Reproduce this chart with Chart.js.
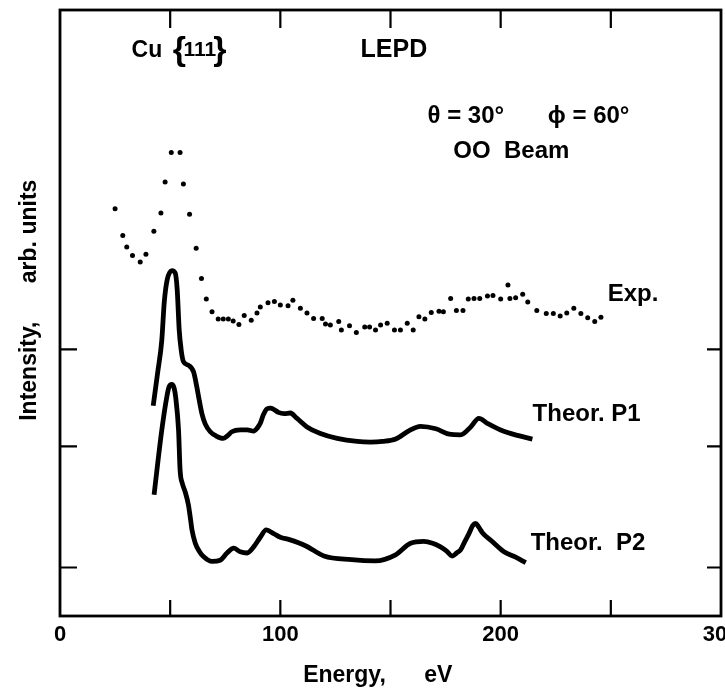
<!DOCTYPE html>
<html>
<head>
<meta charset="utf-8">
<script src="https://cdn.jsdelivr.net/npm/chart.js@4.4.1/dist/chart.umd.min.js"></script>
<style>
  body { margin: 0; background: #fff; }
  #wrap { width: 725px; height: 689px; }
</style>
</head>
<body>
<div id="wrap"><canvas id="myChart"></canvas></div>
<script>
// Datos experimentales (puntos)
const expEnergy = [25.0, 28.5, 30.3, 32.9, 36.4, 39.0, 42.6, 45.8, 47.7, 50.5, 54.5, 56.0, 58.8, 61.8, 64.2, 66.4, 69.0, 71.8, 74.1, 76.4,
  78.6, 81.2, 83.6, 86.8, 89.4, 90.9, 94.4, 97.3, 100.0, 103.5, 105.7, 109.1, 112.1, 115.1, 119.0, 120.5, 122.7, 126.5, 127.7, 131.4,
  134.5, 138.3, 140.5, 143.2, 145.5, 148.5, 151.8, 154.5, 157.6, 160.3, 162.9, 165.6, 168.5, 172.0, 174.0, 177.3, 179.9, 182.9, 185.3, 187.9,
  190.5, 194.0, 196.5, 200.0, 203.3, 204.2, 206.8, 210.0, 212.3, 216.4, 220.7, 223.9, 227.0, 230.0, 233.2, 236.4, 239.5, 242.7, 245.5];
const expIntensity = [67.2, 62.8, 60.9, 59.5, 58.4, 59.7, 63.5, 66.5, 71.6, 76.5, 76.5, 71.3, 66.3, 60.7, 55.7, 52.3, 50.2, 49.0, 49.0, 49.0,
  48.7, 48.1, 49.6, 48.8, 50.0, 51.0, 51.7, 51.9, 51.3, 51.2, 52.1, 50.8, 50.0, 49.1, 49.1, 48.2, 48.0, 48.6, 47.2, 47.9,
  46.8, 47.7, 47.7, 47.2, 48.0, 48.3, 47.2, 47.2, 48.3, 47.2, 49.4, 49.0, 50.1, 50.3, 50.2, 52.4, 50.4, 50.4, 52.3, 52.4,
  52.4, 52.8, 52.9, 52.3, 54.6, 52.4, 52.5, 53.1, 51.8, 50.4, 49.9, 49.9, 49.5, 50.0, 50.8, 49.9, 49.2, 48.6, 49.3];

// Curva teórica P1
const p1Energy = [42.3, 44.3, 46.2, 47.3, 48.6, 50.8, 52.3, 53.2, 54.1, 55.0, 56.0, 58.2, 60.6, 62.1, 63.2, 64.4, 65.9, 68.2, 70.9, 74.0,
  75.9, 78.0, 81.8, 85.0, 87.9, 89.5, 90.9, 92.3, 94.0, 95.5, 97.0, 99.1, 101.8, 104.5, 107.6, 112.1, 118.2, 125.8, 134.9, 140.9,
  146.4, 152.4, 158.5, 163.6, 170.6, 176.7, 181.8, 186.4, 190.1, 193.9, 200.0, 207.6, 214.4];
const p1Intensity = [34.7, 40.1, 45.5, 51.7, 55.4, 57.0, 56.6, 53.8, 47.2, 43.9, 42.0, 41.4, 40.3, 37.8, 35.6, 33.4, 31.7, 30.4, 29.7, 29.3,
  29.7, 30.4, 30.7, 30.7, 30.5, 31.0, 31.8, 33.2, 34.2, 34.3, 34.1, 33.6, 33.4, 33.5, 32.6, 31.2, 30.1, 29.3, 28.8, 28.7,
  28.8, 29.2, 30.6, 31.3, 30.9, 30.0, 29.9, 31.2, 32.6, 31.8, 30.7, 29.8, 29.2];

// Curva teórica P2
const p2Energy = [42.7, 44.0, 46.2, 48.5, 49.5, 50.7, 51.8, 52.5, 53.8, 54.5, 55.5, 56.8, 58.3, 59.3, 59.9, 61.4, 63.2, 65.1, 69.0, 72.7,
  75.8, 78.8, 81.8, 84.9, 87.9, 90.9, 93.6, 97.0, 100.0, 104.1, 111.4, 119.8, 132.3, 143.0, 152.3, 159.1, 165.1, 169.1, 172.7, 175.5,
  178.0, 180.0, 181.8, 183.6, 185.6, 187.3, 188.6, 190.0, 191.8, 195.5, 201.5, 206.8, 211.4];
const p2Intensity = [20.0, 24.1, 30.7, 36.2, 37.8, 38.2, 37.6, 36.1, 30.7, 24.1, 21.9, 20.5, 18.3, 15.8, 14.2, 12.0, 10.7, 9.8, 9.0, 9.2,
  10.4, 11.2, 10.6, 10.4, 11.4, 13.0, 14.2, 13.6, 13.0, 12.6, 11.6, 9.9, 9.3, 9.1, 10.1, 12.0, 12.3, 12.0, 11.4, 10.7,
  9.9, 10.4, 10.9, 12.2, 13.6, 14.9, 15.3, 14.7, 13.7, 12.5, 10.6, 9.7, 8.8];

const xTickLabels = [0, 100, 200, 300]; // etiquetas del eje X
const xMinorTicks = [50, 100, 150, 200, 250]; // marcas internas
const yTicks = [8, 28, 44]; // marcas del eje Y (sin etiqueta)

const FONT = "'Liberation Sans', Arial, sans-serif";

// Textos dentro del gráfico (posición en unidades de datos)
const notes = [
  { text: "Cu", x: 32.5, y: 93.3, size: 23 },
  { text: "{", x: 51.2, y: 93.3, size: 34 },
  { text: "111", x: 56.0, y: 93.3, size: 21 },
  { text: "}", x: 69.5, y: 93.3, size: 34 },
  { text: "LEPD", x: 136.4, y: 93.3, size: 25 },
  { text: "θ = 30°", x: 166.8, y: 82.5, size: 24 },
  { text: "ϕ = 60°", x: 221.4, y: 82.5, size: 24 },
  { text: "OO  Beam", x: 178.5, y: 76.6, size: 24 },
  { text: "Exp.", x: 248.6, y: 53.0, size: 24 },
  { text: "Theor. P1", x: 214.5, y: 33.3, size: 24 },
  { text: "Theor.  P2", x: 213.6, y: 12.0, size: 24 },
];

function toPoints(xs, ys) {
  return xs.map((v, i) => ({ x: v, y: ys[i] }));
}

// Marco y marcas hacia adentro
const frameTicks = {
  id: "frameTicks",
  afterDraw(chart) {
    const { ctx, chartArea: a, scales } = chart;
    const x = scales.x, y = scales.y;
    ctx.save();
    ctx.strokeStyle = "#000";
    ctx.lineWidth = 2.8;
    ctx.strokeRect(a.left, a.top, a.right - a.left, a.bottom - a.top);
    ctx.lineWidth = 2.2;
    ctx.beginPath();
    xMinorTicks.forEach((v) => {
      const px = x.getPixelForValue(v);
      ctx.moveTo(px, a.bottom);
      ctx.lineTo(px, a.bottom - 16);
      ctx.moveTo(px, a.top);
      ctx.lineTo(px, a.top + 18);
    });
    yTicks.forEach((v) => {
      const py = y.getPixelForValue(v);
      ctx.moveTo(a.left, py);
      ctx.lineTo(a.left + 17, py);
      ctx.moveTo(a.right, py);
      ctx.lineTo(a.right - 14, py);
    });
    ctx.stroke();

    ctx.fillStyle = "#000";
    ctx.textBaseline = "middle";
    ctx.textAlign = "left";
    notes.forEach((n) => {
      ctx.font = "bold " + n.size + "px " + FONT;
      ctx.fillText(n.text, x.getPixelForValue(n.x), y.getPixelForValue(n.y));
    });
    ctx.restore();
  },
};

const ctx = document.getElementById("myChart").getContext("2d");
const myChart = new Chart(ctx, {
  type: "scatter",
  data: {
    datasets: [
      {
        label: "Exp.",
        data: toPoints(expEnergy, expIntensity),
        showLine: false,
        pointRadius: 2.5,
        pointBackgroundColor: "#000",
        pointBorderWidth: 0,
      },
      {
        label: "Theor. P1",
        data: toPoints(p1Energy, p1Intensity),
        showLine: true,
        borderColor: "#000",
        borderWidth: 4.8,
        pointRadius: 0,
        cubicInterpolationMode: "monotone",
      },
      {
        label: "Theor. P2",
        data: toPoints(p2Energy, p2Intensity),
        showLine: true,
        borderColor: "#000",
        borderWidth: 4.8,
        pointRadius: 0,
        cubicInterpolationMode: "monotone",
      },
    ],
  },
  options: {
    responsive: true,
    maintainAspectRatio: false,
    animation: false,
    layout: { padding: { left: 0, right: 4, top: 10, bottom: 0 } },
    plugins: { legend: { display: false }, tooltip: { enabled: false } },
    scales: {
      x: {
        type: "linear",
        min: 0,
        max: 300,
        grid: { display: false, drawTicks: false },
        border: { display: false },
        afterBuildTicks: (s) => { s.ticks = xTickLabels.map((v) => ({ value: v })); },
        afterFit: (s) => { s.height = 73; s.paddingLeft = 0; s.paddingRight = 0; },
        ticks: { padding: 6, color: "#000", font: { family: FONT, size: 22, weight: "bold" } },
        title: {
          display: true,
          text: "Energy,      eV    ",
          color: "#000",
          font: { family: FONT, size: 23, weight: "bold" },
          padding: { top: 0, bottom: 0 },
        },
      },
      y: {
        type: "linear",
        min: 0,
        max: 100,
        grid: { display: false, drawTicks: false },
        border: { display: false },
        ticks: { display: false },
        afterFit: (s) => { s.width = 60; },
        title: {
          display: true,
          text: "    Intensity,      arb. units",
          color: "#000",
          font: { family: FONT, size: 23, weight: "bold" },
          padding: { top: 16, bottom: 0 },
        },
      },
    },
  },
  plugins: [frameTicks],
});
</script>
</body>
</html>
